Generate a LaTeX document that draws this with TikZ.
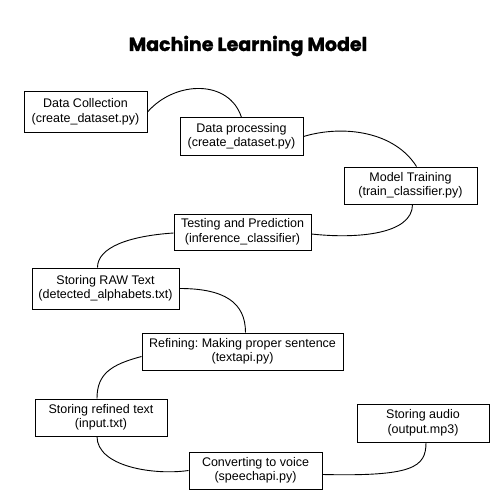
\documentclass[tikz,border=0pt]{standalone}
\usepackage{fontspec}
\setmainfont{Liberation Sans}
\newfontfamily\titlefont{Poppins}[BoldFeatures={FakeBold=1.3}]
\frenchspacing
\begin{document}
\begin{tikzpicture}[x=1pt,y=-1pt,
  box/.style={draw=black,line width=1pt,rectangle,inner sep=0pt,align=center,
    font=\fontsize{12.5}{14.5}\selectfont},
  link/.style={draw=black,line width=0.9pt}]
\useasboundingbox (0,0) rectangle (500,500);
\node[font=\titlefont\bfseries\fontsize{19}{22}\selectfont] (title) at (248,46) {Machine Learning Model};
\node[box,minimum width=123pt,minimum height=40pt] (b1) at (85.5,112) {Data Collection\\(create\_dataset.py)};
\node[box,minimum width=123pt,minimum height=37pt] (b2) at (241.5,136.5) {Data processing\\(create\_dataset.py)};
\node[box,minimum width=133pt,minimum height=37pt] (b3) at (410.5,185.5) {Model Training\\(train\_classifier.py)};
\node[box,minimum width=137pt,minimum height=36pt] (b4) at (242.5,232) {Testing and Prediction\\(inference\_classifier)};
\node[box,minimum width=147pt,minimum height=41pt] (b5) at (105.5,288.5) {Storing RAW Text\\(detected\_alphabets.txt)};
\node[box,minimum width=201pt,minimum height=37pt] (b6) at (242.5,351.5) {Refining: Making proper sentence\\(textapi.py)};
\node[box,minimum width=132pt,minimum height=37pt] (b7) at (101,417.5) {Storing refined text\\(input.txt)};
\node[box,minimum width=133pt,minimum height=37pt] (b8) at (255.5,470.5) {Converting to voice\\(speechapi.py)};
\node[box,minimum width=132pt,minimum height=38pt] (b9) at (423,423) {Storing audio\\(output.mp3)};
\draw[link] (b1.east) .. controls +(28,-32) and +(-12,-38) .. (b2.north);
\draw[link] (b2.east) .. controls +(40,-12) and +(-22,-35) .. ([xshift=6pt]b3.north);
\draw[link] ([xshift=2pt]b3.south) .. controls +(0,30) and +(45,5) .. ([yshift=-2pt]b4.east);
\draw[link] ([yshift=-1pt]b4.west) .. controls +(-45,3) and +(0,-20) .. ([xshift=-8pt]b5.north);
\draw[link] (b5.east) .. controls +(45,0) and +(0,-30) .. ([xshift=3pt]b6.north);
\draw[link] ([yshift=-5pt]b6.west) .. controls +(-30,8) and +(0,-25) .. ([xshift=-4pt]b7.north);
\draw[link] ([xshift=-4pt]b7.south) .. controls +(0,30) and +(-35,5) .. (b8.west);
\draw[link] ([yshift=-4pt]b8.east) .. controls +(90,2) and +(0,25) .. ([xshift=3pt]b9.south);
\end{tikzpicture}
\end{document}
